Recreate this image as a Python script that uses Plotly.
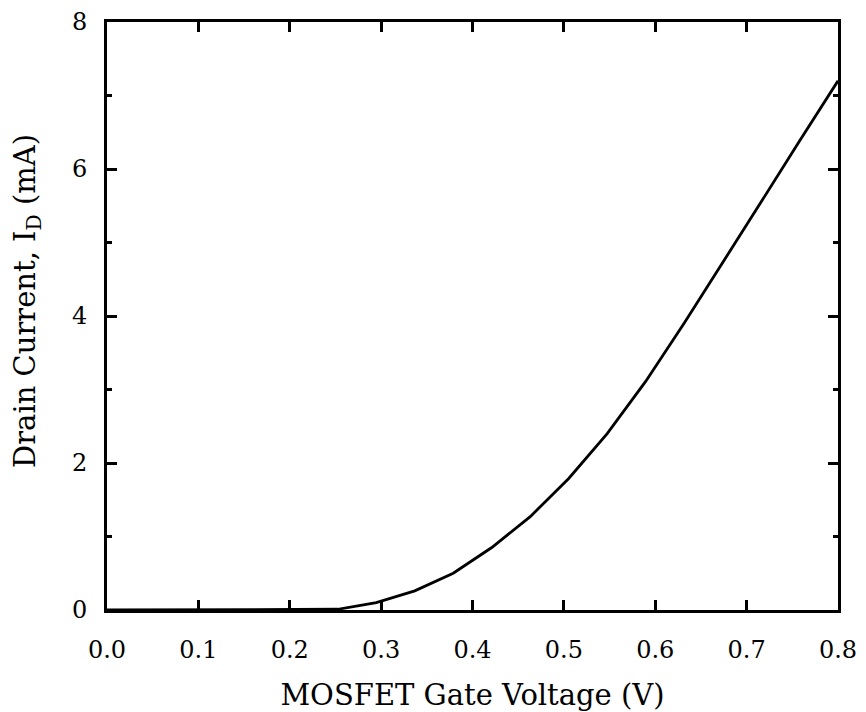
import numpy as np
import plotly.graph_objects as go

# Gate voltage sweep (V) and measured drain current (mA)
gate_voltage = [0.0, 0.0421, 0.0842, 0.1263, 0.1684, 0.2105, 0.2526, 0.2947,
                0.3368, 0.3789, 0.4211, 0.4632, 0.5053, 0.5474, 0.5895, 0.6316,
                0.6737, 0.7158, 0.7579, 0.8]
drain_current = [0.0, 0.0, 0.0, 0.0, 0.0, 0.0, 0.01, 0.10,
                 0.26, 0.50, 0.85, 1.27, 1.79, 2.40, 3.11, 3.90,
                 4.72, 5.55, 6.38, 7.20]

FONT = "DejaVu Serif"

fig = go.Figure()
fig.add_trace(go.Scatter(
    x=gate_voltage, y=drain_current, mode="lines",
    line=dict(color="black", width=2.8),
    showlegend=False, hoverinfo="skip",
))

axis_common = dict(
    showline=True, linecolor="black", linewidth=2.8, mirror="allticks",
    ticks="inside", ticklen=10, tickwidth=2.5, tickcolor="black",
    showgrid=False, zeroline=False, automargin=False,
    tickfont=dict(family=FONT, size=24, color="black"),
)

fig.update_xaxes(
    range=[0, 0.8], dtick=0.1, tick0=0, tickformat=".1f",
    title=dict(text="MOSFET Gate Voltage (V)",
               font=dict(family=FONT, size=29, color="black"), standoff=22),
    ticklabelstandoff=16,
    **axis_common,
)
fig.update_yaxes(
    range=[0, 8], dtick=2, tick0=0,
    minor=dict(ticks="inside", ticklen=5, tickwidth=2.5, tickcolor="black", dtick=1),
    ticklabelstandoff=12,
    **axis_common,
)

# Vertical axis label placed as an annotation so it sits left of the tick labels
fig.add_annotation(
    text="Drain Current, I<sub>D</sub> (mA)",
    xref="paper", yref="paper", x=0, y=(610 - 301) / 588,
    xanchor="center", yanchor="middle", xshift=-80,
    textangle=-90, showarrow=False,
    font=dict(family=FONT, size=29, color="black"),
)

fig.update_layout(
    width=866, height=712,
    margin=dict(l=107, r=28, t=22, b=102),
    plot_bgcolor="white", paper_bgcolor="white",
)

fig.write_html("out.html")
